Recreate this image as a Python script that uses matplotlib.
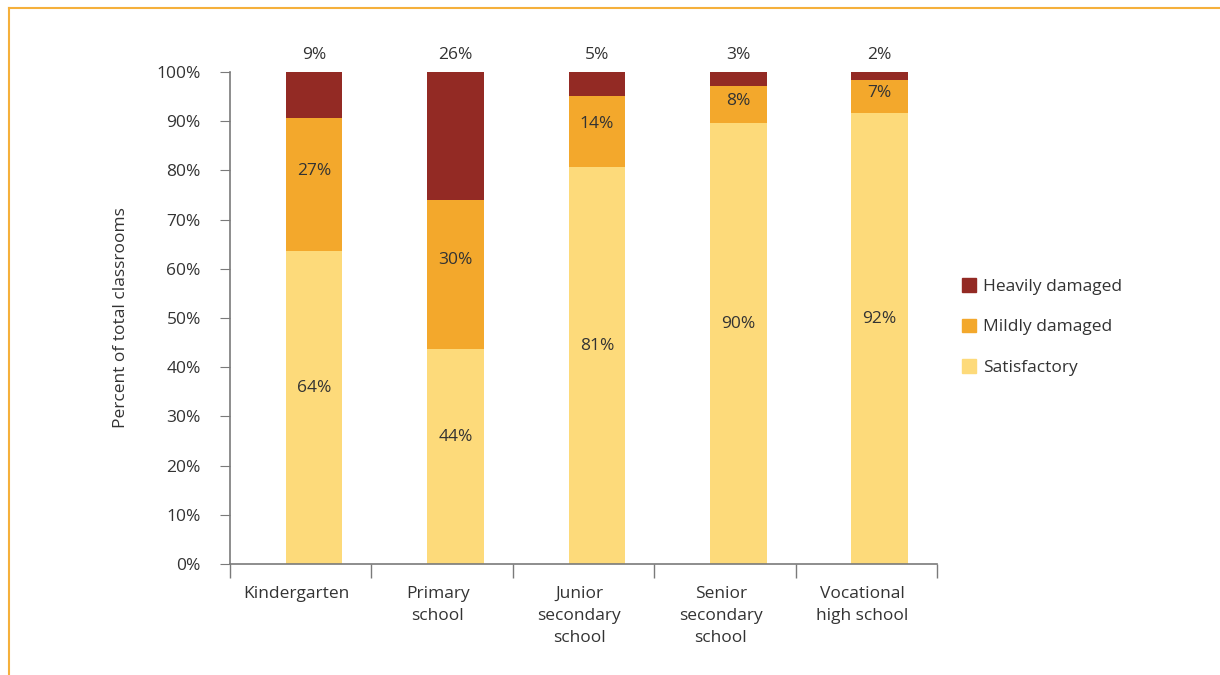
import matplotlib
matplotlib.use("Agg")
import matplotlib.pyplot as plt
from matplotlib.lines import Line2D
from matplotlib.patches import Patch
import numpy as np

plt.rcParams["font.family"] = ["Open Sans", "DejaVu Sans"]

categories = ["Kindergarten", "Primary\nschool", "Junior\nsecondary\nschool",
              "Senior\nsecondary\nschool", "Vocational\nhigh school"]
satisfactory = [63.6, 43.7, 80.7, 89.6, 91.6]
mildly = [27.0, 30.3, 14.4, 7.6, 6.8]
heavily = [9.4, 26.0, 4.9, 2.8, 1.6]
yticks = [0, 10, 20, 30, 40, 50, 60, 70, 80, 90, 100]

c_heavy = "#932A24"
c_mild = "#F3A82C"
c_sat = "#FDDA7A"
txt = "#333333"
spine = "#7a7a7a"

fig = plt.figure(figsize=(12.2, 6.75), dpi=100)
ax = fig.add_axes([230 / 1220, 1 - 564 / 675, 707 / 1220, 492 / 675])

centers = np.arange(len(categories)) + 0.5
x = centers + 0.095  # bars sit a little right of the category centre
w = 0.4
sat = np.array(satisfactory)
mil = np.array(mildly)
hev = np.array(heavily)
ax.bar(x, sat, w, color=c_sat)
ax.bar(x, mil, w, bottom=sat, color=c_mild)
ax.bar(x, hev, w, bottom=sat + mil, color=c_heavy)

fs = 12.5
for xi, s, m, h in zip(x, sat, mil, hev):
    ax.text(xi, s / 2 + min(4, 0.1 * s), f"{s:.0f}%", ha="center", va="center", fontsize=fs, color=txt)
    ax.text(xi, s + m / 2 + min(4, 0.1 * m), f"{m:.0f}%", ha="center", va="center", fontsize=fs, color=txt)
    ax.text(xi, 103.5, f"{h:.0f}%", ha="center", va="center", fontsize=fs, color=txt, clip_on=False)

ax.set_xlim(0, len(categories))
ax.set_ylim(0, 100)
ax.set_yticks(yticks)
ax.set_yticklabels([f"{t}%" for t in yticks])
ax.set_xticks(np.arange(len(categories) + 1))
ax.set_xticklabels([])
ax.set_xticks(centers - 0.03, minor=True)
ax.set_xticklabels(categories, minor=True, fontsize=fs, color=txt, linespacing=1.5)
ax.tick_params(axis="x", which="minor", length=0, pad=16)
ax.tick_params(axis="x", which="major", length=10, color=spine, width=1)
ax.tick_params(axis="y", length=7, color=spine, labelsize=fs, labelcolor=txt, pad=14)
for s in ["top", "right"]:
    ax.spines[s].set_visible(False)
for s in ["left", "bottom"]:
    ax.spines[s].set_color(spine)
    ax.spines[s].set_linewidth(1.2)
ax.set_ylabel("Percent of total classrooms", fontsize=fs, color=txt, labelpad=20)

handles = [Patch(color=c_heavy), Patch(color=c_mild), Patch(color=c_sat)]
labels = ["Heavily damaged", "Mildly damaged", "Satisfactory"]
fig.legend(handles, labels, loc="center left", bbox_to_anchor=(946 / 1220, 1 - 327 / 675),
           frameon=False, fontsize=fs, handlelength=0.85, handleheight=0.85,
           labelspacing=1.35, handletextpad=0.4, labelcolor=txt)

# orange frame
fig.add_artist(Line2D([9 / 1220, 1], [1 - 8 / 675, 1 - 8 / 675], color="#F5B03B", lw=1.5))
fig.add_artist(Line2D([9 / 1220, 9 / 1220], [0, 1 - 8 / 675], color="#F5B03B", lw=1.5))

fig.savefig("out.png", dpi=100)
